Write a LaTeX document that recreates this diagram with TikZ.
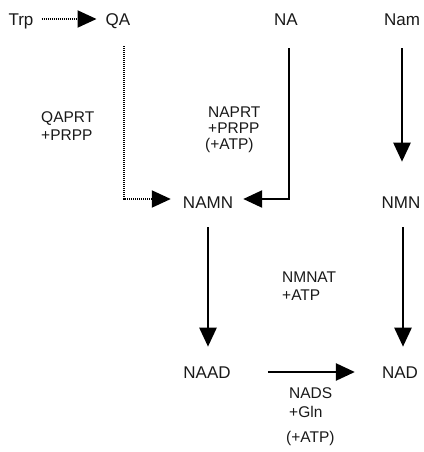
\documentclass[tikz,border=0pt]{standalone}
\usepackage{fontspec}
\setmainfont{Liberation Sans}
\usetikzlibrary{arrows.meta}
\begin{document}
\begin{tikzpicture}[x=1pt,y=-1pt,
  met/.style={font=\fontsize{17}{20}\selectfont, inner sep=0pt, text height=12.2pt, text depth=0pt, anchor=center, text=black!90},
  lab/.style={font=\fontsize{15.5}{18}\selectfont, inner sep=0pt, anchor=base west, text=black!90},
  rx/.style={line width=2.5pt, -{Triangle[length=19pt,width=17pt]}},
  dotx/.style={line width=2pt, dash pattern=on 1pt off 1pt, -{Triangle[length=19pt,width=17pt]}}]
\useasboundingbox (0,0) rectangle (423,452);
% metabolites
\node[met] (trp) at (21,19) {Trp};
\node[met] (qa) at (118,19) {QA};
\node[met] (na) at (286,19) {NA};
\node[met] (nam) at (402,19) {Nam};
\node[met] (namn) at (208,202) {NAMN};
\node[met] (nmn) at (401,202) {NMN};
\node[met] (naad) at (207,372) {NAAD};
\node[met] (nad) at (400,372) {NAD};
% labels
\node[lab] (l1) at (41,122.4) {QAPRT};
\node[lab] (l2) at (41,140.4) {+PRPP};
\node[lab] (l3) at (208,117.4) {NAPRT};
\node[lab] (l4) at (208,133.4) {+PRPP};
\node[lab] (l5) at (205,149.5) {(+ATP)};
\node[lab] (l6) at (282,282.4) {NMNAT};
\node[lab] (l7) at (282,300.4) {+ATP};
\node[lab] (l8) at (289,398.4) {NADS};
\node[lab] (l9) at (289,417.4) {+Gln};
\node[lab] (l10) at (286,442.4) {(+ATP)};
% connectors
\draw[dotx, shorten <=8pt, shorten >=9pt] (trp.east) -- (qa.west);
\draw[dotx, shorten <=21pt, shorten >=12pt] ([xshift=6pt]qa.south) |- ([yshift=3pt]namn.west);
\draw[rx, shorten <=23pt, shorten >=10pt] ([xshift=3pt]na.south) |- ([yshift=3pt]namn.east);
\draw[rx, shorten <=23pt, shorten >=34pt] (nam.south) -- (nmn.north -| nam.south);
\draw[rx, shorten <=19pt, shorten >=19pt] (namn.south) -- (naad.north -| namn.south);
\draw[rx, shorten <=19pt, shorten >=19pt] ([xshift=2pt]nmn.south) -- ([xshift=2pt]nmn.south |- nad.north);
\draw[rx, shorten <=37pt, shorten >=27pt] (naad.east) -- (nad.west);
\end{tikzpicture}
\end{document}
